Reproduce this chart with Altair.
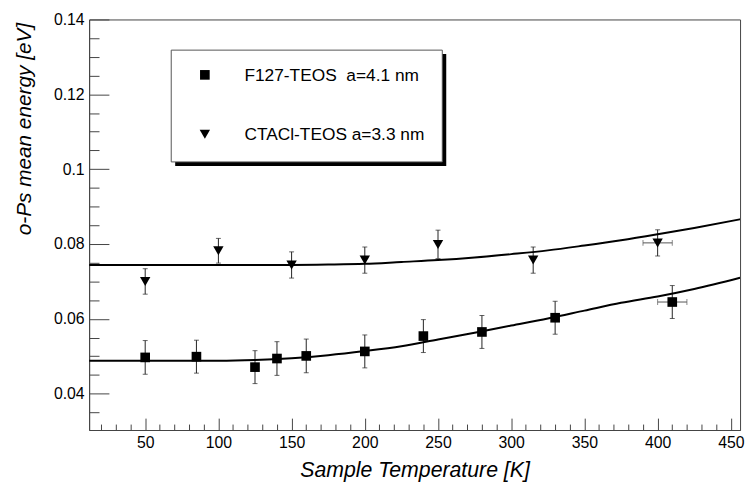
import altair as alt
import pandas as pd

# ---------------- data ----------------
f127_label = "F127-TEOS\u00a0 a=4.1 nm"
ctacl_label = "CTACl-TEOS a=3.3 nm"

f127_T = [50, 85, 125, 140, 160, 200, 240, 280, 330, 410]
f127_E = [0.0497, 0.0499, 0.0471, 0.0494, 0.0501, 0.0513, 0.0554, 0.0565, 0.0603, 0.0645]
f127_dE = [0.0045, 0.0044, 0.0044, 0.0045, 0.0045, 0.0044, 0.0044, 0.0044, 0.0044, 0.0044]
f127_dT = [0, 0, 0, 0, 0, 0, 0, 0, 0, 10]

ctacl_T = [50, 100, 150, 200, 250, 315, 400]
ctacl_E = [0.0700, 0.0782, 0.0744, 0.0757, 0.0799, 0.0757, 0.0803]
ctacl_dE = [0.0034, 0.0033, 0.0035, 0.0035, 0.0038, 0.0035, 0.0035]
ctacl_dT = [0, 0, 0, 0, 0, 0, 10]

fit_T = [11.7, 50, 100, 125, 150, 175, 200, 225, 250, 275, 300, 325, 350, 375, 400, 425, 456.3]
fit_f127 = [0.0488, 0.0488, 0.0488, 0.0490, 0.0495, 0.0503, 0.0514, 0.0527, 0.0545, 0.0563,
            0.0582, 0.0601, 0.0622, 0.0643, 0.0660, 0.0680, 0.0710]
fit_ctacl = [0.0744, 0.0744, 0.0744, 0.0744, 0.0744, 0.0745, 0.0747, 0.0752, 0.0757, 0.0764,
             0.0773, 0.0783, 0.0796, 0.0810, 0.0826, 0.0843, 0.0866]

x_major = [50, 100, 150, 200, 250, 300, 350, 400, 450]
x_minor = [20, 30, 40, 60, 70, 80, 90, 110, 120, 130, 140, 160, 170, 180, 190, 210, 220, 230,
           240, 260, 270, 280, 290, 310, 320, 330, 340, 360, 370, 380, 390, 410, 420, 430, 440]
y_major = [0.04, 0.06, 0.08, 0.1, 0.12, 0.14]
y_minor = [0.035, 0.045, 0.05, 0.055, 0.065, 0.07, 0.075, 0.085, 0.09, 0.095, 0.105, 0.11,
           0.115, 0.125, 0.13, 0.135]

# ---------------- tables ----------------
pts = pd.concat([
    pd.DataFrame({"series": f127_label, "T": f127_T, "E": f127_E, "dE": f127_dE, "dT": f127_dT}),
    pd.DataFrame({"series": ctacl_label, "T": ctacl_T, "E": ctacl_E, "dE": ctacl_dE, "dT": ctacl_dT}),
], ignore_index=True)
fits = pd.concat([
    pd.DataFrame({"series": f127_label, "T": fit_T, "E": fit_f127}),
    pd.DataFrame({"series": ctacl_label, "T": fit_T, "E": fit_ctacl}),
], ignore_index=True)
one = pd.DataFrame({"k": [0]})

FONT = "Liberation Sans"
AX = "#444444"
xs = alt.Scale(domain=[11.7, 456.3], nice=False, zero=False)
ys = alt.Scale(domain=[0.0303, 0.14], nice=False, zero=False)

# axis carrying labels, titles and the axis lines
x_lab_axis = alt.Axis(
    orient="bottom", values=x_major, format="d", ticks=False, labelPadding=5,
    labelFont=FONT, labelFontSize=16, labelColor="black", labelFlush=False, labelOverlap=False,
    domainColor=AX, grid=False,
    title="Sample Temperature [K]", titleFont=FONT, titleFontSize=21.5,
    titleFontStyle="italic", titleFontWeight="normal", titleColor="black",
    titleX=329, titleY=47, titleAlign="center", titleBaseline="alphabetic",
)
y_lab_axis = alt.Axis(
    orient="left", values=y_major, format="~g", ticks=False, labelPadding=5,
    labelFont=FONT, labelFontSize=16, labelColor="black", labelFlush=False, labelOverlap=False,
    domainColor=AX, grid=False,
    title="o-Ps mean energy [eV]", titleFont=FONT, titleFontSize=21,
    titleFontStyle="italic", titleFontWeight="normal", titleColor="black",
    titleAngle=270, titleX=-59, titleY=3, titleAlign="right", titleBaseline="alphabetic",
)
# inward major / minor ticks: axes shifted into the plot by their tick length
x_maj_axis = alt.Axis(orient="bottom", values=x_major, offset=-12, tickSize=12, tickColor=AX,
                      labels=False, domain=False, grid=False, title=None)
x_min_axis = alt.Axis(orient="bottom", values=x_minor, offset=-6, tickSize=6, tickColor=AX,
                      labels=False, domain=False, grid=False, title=None)
y_maj_axis = alt.Axis(orient="left", values=y_major, offset=-20, tickSize=20, tickColor=AX,
                      labels=False, domain=False, grid=False, title=None)
y_min_axis = alt.Axis(orient="left", values=y_minor, offset=-10, tickSize=10, tickColor=AX,
                      labels=False, domain=False, grid=False, title=None)

base = alt.Chart(pts)


def carrier(xa, ya):
    return base.mark_point(opacity=0, size=1).encode(
        x=alt.X("T:Q", scale=xs, axis=xa), y=alt.Y("E:Q", scale=ys, axis=ya))


ax_lab = carrier(x_lab_axis, y_lab_axis)
ax_maj = carrier(x_maj_axis, y_maj_axis)
ax_min = carrier(x_min_axis, y_min_axis)

vbars = base.mark_rule(color="#222222", strokeWidth=1).transform_calculate(
    lo="datum.E - datum.dE", hi="datum.E + datum.dE"
).encode(
    x=alt.X("T:Q", scale=xs, axis=None),
    y=alt.Y("lo:Q", scale=ys, axis=None),
    y2="hi:Q",
)
vcaps_lo = base.mark_tick(orient="horizontal", size=5, thickness=1, color="#222222").transform_calculate(
    lo="datum.E - datum.dE"
).encode(x=alt.X("T:Q", scale=xs, axis=None), y=alt.Y("lo:Q", scale=ys, axis=None))
vcaps_hi = base.mark_tick(orient="horizontal", size=5, thickness=1, color="#222222").transform_calculate(
    hi="datum.E + datum.dE"
).encode(x=alt.X("T:Q", scale=xs, axis=None), y=alt.Y("hi:Q", scale=ys, axis=None))

hbars = base.mark_rule(color="#555555", strokeWidth=1).transform_filter("datum.dT > 0").transform_calculate(
    tlo="datum.T - datum.dT", thi="datum.T + datum.dT"
).encode(x=alt.X("tlo:Q", scale=xs, axis=None), x2="thi:Q", y=alt.Y("E:Q", scale=ys, axis=None))
hcaps_lo = base.mark_tick(orient="vertical", size=6, thickness=1, color="#555555").transform_filter(
    "datum.dT > 0").transform_calculate(tlo="datum.T - datum.dT").encode(
    x=alt.X("tlo:Q", scale=xs, axis=None), y=alt.Y("E:Q", scale=ys, axis=None))
hcaps_hi = base.mark_tick(orient="vertical", size=6, thickness=1, color="#555555").transform_filter(
    "datum.dT > 0").transform_calculate(thi="datum.T + datum.dT").encode(
    x=alt.X("thi:Q", scale=xs, axis=None), y=alt.Y("E:Q", scale=ys, axis=None))

curves = alt.Chart(fits).mark_line(color="black", strokeWidth=2, interpolate="monotone", clip=True).encode(
    x=alt.X("T:Q", scale=xs, axis=None),
    y=alt.Y("E:Q", scale=ys, axis=None),
    detail="series:N",
)

SQ = 95
TRI = 110
shape_scale = alt.Scale(domain=[f127_label, ctacl_label], range=["square", "triangle-down"])
size_scale = alt.Scale(domain=[f127_label, ctacl_label], range=[SQ, TRI])
points = base.mark_point(filled=True, color="black", opacity=1).encode(
    x=alt.X("T:Q", scale=xs, axis=None),
    y=alt.Y("E:Q", scale=ys, axis=None),
    shape=alt.Shape("series:N", scale=shape_scale, legend=None),
    size=alt.Size("series:N", scale=size_scale, legend=None),
)

# ---------------- legend box (ROOT TLegend style) ----------------
leg = alt.Chart(one)
shadow = leg.mark_rect(color="black").encode(
    x=alt.value(87), x2=alt.value(361), y=alt.value(35), y2=alt.value(148))
box = leg.mark_rect(fill="white", stroke="#555555", strokeWidth=1).encode(
    x=alt.value(83), x2=alt.value(357), y=alt.value(31), y2=alt.value(144))
sym1 = leg.mark_point(filled=True, color="black", opacity=1, size=SQ, shape="square").encode(
    x=alt.value(117), y=alt.value(56))
sym2 = leg.mark_point(filled=True, color="black", opacity=1, size=TRI, shape="triangle-down").encode(
    x=alt.value(117), y=alt.value(116))
txt1 = leg.mark_text(align="left", baseline="middle", font=FONT, fontSize=17.5, color="black").encode(
    x=alt.value(157), y=alt.value(57), text=alt.value(f127_label))
txt2 = leg.mark_text(align="left", baseline="middle", font=FONT, fontSize=17.5, color="black").encode(
    x=alt.value(157), y=alt.value(117), text=alt.value(ctacl_label))

chart = alt.layer(
    ax_lab, ax_maj, ax_min,
    vbars, vcaps_lo, vcaps_hi, hbars, hcaps_lo, hcaps_hi, curves, points,
    shadow, box, sym1, sym2, txt1, txt2,
).resolve_scale(x="shared", y="shared").resolve_axis(x="independent", y="independent").properties(
    width=658, height=415,
    autosize=alt.AutoSizeParams(type="none"),
    padding={"left": 82, "top": 9, "right": 5, "bottom": 53},
    background="white",
).configure_view(stroke=AX, strokeWidth=1)

chart.save("out.html", embed_options={"renderer": "svg", "actions": False})
